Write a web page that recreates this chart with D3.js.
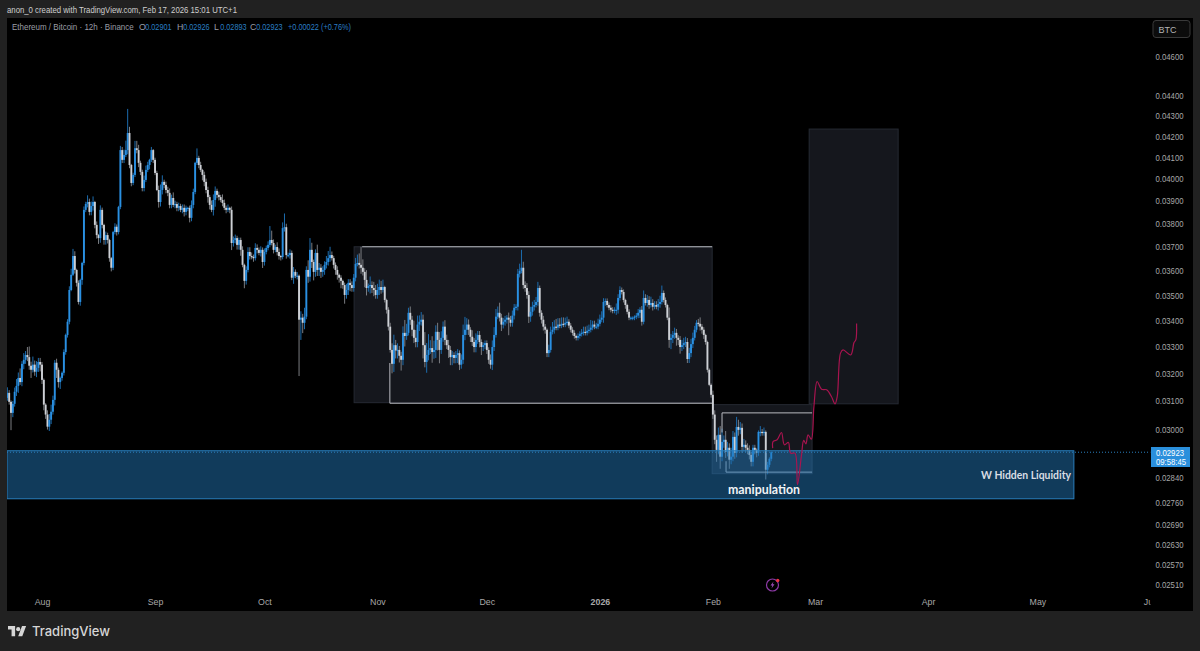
<!DOCTYPE html>
<html>
<head>
<meta charset="utf-8">
<title>ETH/BTC 12h</title>
<script src="https://cdn.jsdelivr.net/npm/d3@7/dist/d3.min.js"></script>
<style>
  html, body { margin: 0; padding: 0; background: #212121; overflow: hidden; }
  svg { display: block; font-family: "Liberation Sans", Arial, sans-serif; }
</style>
</head>
<body>
<svg id="chart" width="1200" height="651"></svg>
<script>
// Prices below are in units of 0.00001 BTC.
const firstCandle = Date.UTC(2025, 6, 22);
const closes = [
  3111,3129,3097,3058,3090,3133,3154,3183,3168,3235,
  3250,3268,3260,3228,3213,3232,3206,3220,3242,3232,
  3176,3087,3052,3010,3034,3062,3104,3239,3213,3168,
  3183,3202,3279,3344,3395,3521,3583,3661,3603,3550,
  3473,3562,3632,3860,3886,3895,3851,3877,3895,3794,
  3750,3737,3860,3794,3729,3750,3729,3652,3612,3763,
  3786,3763,3873,4134,4088,4111,4134,4216,4064,3981,
  4018,4143,4134,4074,4032,3958,3995,4041,4064,4088,
  4134,4088,4027,3949,3895,3949,3986,3972,3949,3936,
  3882,3913,3882,3886,3869,3877,3860,3869,3851,3869,
  3869,3825,3882,3940,4074,4097,4064,4041,4018,3986,
  3949,3917,3882,3860,3904,3945,3927,3917,3904,3891,
  3869,3860,3869,3860,3716,3729,3737,3708,3729,3687,
  3624,3558,3603,3678,3661,3657,3652,3695,3687,3674,
  3687,3636,3678,3695,3708,3729,3716,3687,3699,3678,
  3661,3657,3780,3784,3665,3665,3674,3571,3595,3579,
  3579,3403,3411,3391,3415,3603,3575,3687,3636,3595,
  3674,3603,3612,3595,3603,3624,3636,3652,3665,3652,
  3624,3603,3583,3571,3558,3541,3501,3521,3550,3541,
  3529,3571,3628,3632,3624,3612,3595,3562,3529,3537,
  3541,3529,3521,3501,3521,3533,3521,3533,3481,3442,
  3376,3287,3235,3305,3285,3287,3265,3250,3352,3340,
  3352,3430,3403,3364,3333,3317,3384,3395,3403,3305,
  3242,3268,3287,3294,3279,3287,3356,3325,3287,3333,
  3376,3325,3305,3287,3260,3268,3257,3268,3275,3232,
  3250,3344,3364,3384,3364,3337,3317,3298,3325,3344,
  3317,3298,3305,3313,3287,3250,3232,3298,3344,3415,
  3430,3411,3384,3395,3403,3411,3403,3391,3419,3450,
  3454,3587,3599,3612,3541,3529,3501,3415,3434,3454,
  3461,3473,3529,3430,3403,3376,3364,3275,3287,3356,
  3364,3376,3372,3384,3380,3387,3384,3391,3395,3380,
  3364,3352,3340,3333,3340,3348,3352,3356,3352,3360,
  3364,3372,3384,3376,3376,3387,3403,3411,3473,3477,
  3461,3450,3442,3438,3442,3442,3489,3521,3513,3481,
  3461,3434,3411,3411,3411,3415,3419,3430,3442,3395,
  3489,3469,3481,3461,3469,3454,3461,3454,3465,3473,
  3509,3481,3461,3411,3325,3333,3344,3352,3333,3325,
  3298,3305,3313,3317,3253,3275,3309,3333,3364,3391,
  3387,3376,3364,3344,3317,3213,3158,3122,3052,2965,
  2931,2982,2908,2958,2965,2924,2938,2898,2908,2975,
  2921,3009,2999,3006,2941,2948,2938,2931,2914,2891,
  2938,2931,2921,2992,2992,2989,2992,2865,2881,2901,
  2923
];
const upperWicks = [
  110,20,10,5,10,15,25,20,35,10,
  25,15,30,40,15,30,15,25,15,15,
  10,5,5,15,20,25,15,10,15,8,
  5,5,10,5,10,15,25,30,20,5,
  10,5,5,15,10,30,15,20,25,5,
  15,5,20,10,5,15,10,5,5,5,
  15,10,5,20,15,25,45,118,30,5,
  10,35,35,25,10,10,20,20,15,5,
  15,5,10,10,20,25,30,10,15,15,
  20,15,25,15,10,15,10,15,15,10,
  5,10,20,15,5,45,10,15,5,15,
  15,15,10,20,25,20,10,15,10,25,
  15,10,15,5,15,15,15,10,10,10,
  15,5,15,20,20,15,10,20,15,10,
  15,10,15,10,15,60,40,15,10,20,
  15,5,25,60,15,10,15,10,20,10,
  15,5,25,15,35,15,40,50,30,10,
  15,35,20,15,15,15,25,30,35,15,
  10,10,15,5,10,5,10,25,15,15,
  15,15,25,35,40,76,35,15,40,10,
  35,15,25,20,25,30,25,30,5,5,
  10,15,25,40,20,25,15,15,25,50,
  35,20,25,15,35,30,35,25,30,20,
  50,45,60,30,45,35,25,35,30,25,
  20,25,20,20,15,15,10,15,15,10,
  20,40,50,25,20,10,25,15,25,15,
  15,10,10,10,10,10,20,25,30,30,
  25,40,15,15,15,10,20,15,20,15,
  10,20,30,75,25,15,20,15,20,20,
  20,20,25,10,10,15,10,5,20,20,
  30,25,30,25,25,25,25,20,20,10,
  10,10,10,5,10,10,15,20,20,20,
  20,30,15,15,15,20,20,25,15,10,
  10,10,10,10,10,25,15,15,10,10,
  5,5,10,5,5,5,10,15,10,15,
  30,15,20,15,25,15,15,15,20,25,
  30,10,10,5,40,15,15,20,15,10,
  15,20,20,20,15,20,20,20,15,10,
  15,25,10,10,5,5,5,5,15,15,
  15,25,30,45,15,30,20,15,30,20,
  15,35,25,20,15,20,15,15,15,10,
  10,10,5,5,20,10,15,5,10,5,
  3
];
const lowerWicks = [
  45,10,10,60,15,10,15,25,10,15,
  20,15,15,15,30,10,15,20,15,25,
  15,20,15,10,15,15,10,20,30,20,
  25,10,10,10,10,10,5,5,15,15,
  10,15,20,10,10,15,15,15,20,15,
  15,25,20,15,20,20,15,15,15,10,
  10,15,10,10,15,15,10,20,15,15,
  10,10,15,20,15,15,15,10,10,20,
  10,15,10,5,25,20,20,15,15,15,
  15,15,10,15,15,15,10,15,20,15,
  15,20,15,15,10,10,15,10,25,20,
  15,25,20,10,25,30,15,15,10,15,
  10,15,10,15,30,15,15,20,20,25,
  10,30,15,10,15,10,15,10,15,10,
  15,25,15,10,10,10,10,15,10,15,
  15,15,10,15,15,10,15,10,25,10,
  15,213,78,40,25,10,25,20,25,35,
  20,25,25,25,20,20,15,15,15,10,
  15,20,20,20,30,15,35,15,20,25,
  15,15,15,10,15,25,15,30,30,15,
  30,20,25,15,15,20,15,10,10,15,
  15,10,35,30,30,30,25,40,20,40,
  15,10,20,25,20,20,20,25,15,50,
  20,40,20,15,40,25,30,40,50,15,
  15,20,15,30,30,30,20,20,30,20,
  15,15,20,20,20,20,15,20,20,15,
  20,30,15,15,15,15,15,20,15,10,
  10,15,25,15,15,15,60,15,15,15,
  10,15,15,10,15,15,15,25,20,15,
  15,10,15,15,15,15,15,15,15,10,
  10,15,10,10,10,10,10,10,10,10,
  10,10,10,10,10,10,10,10,10,10,
  10,10,10,10,10,10,10,10,20,15,
  10,10,10,10,10,20,15,10,10,10,
  15,10,10,10,10,10,10,10,20,15,
  10,10,15,15,10,15,10,10,15,15,
  10,10,10,10,30,35,20,15,30,20,
  25,15,15,15,15,15,15,15,10,10,
  10,15,15,15,10,10,5,10,15,15,
  40,15,40,15,20,20,15,30,15,15,
  20,15,20,15,20,15,15,15,15,15,
  15,15,15,10,15,10,10,32,15,8,
  8
];

// Projected path: days after 1 Feb 2026 and the price reached on that day.
const projectionDays = [16.4,16.5,17.6,18.8,19.6,20.7,21.3,22.5,23.2,24.3,24.9,25.5,26.1,27,27.7,28.6,29.8,31.2,32.5,33.5,34.1,35,35.7,37.8,38.7,39.2,39.4];
const projectionPrices = [2937,2959,2965,2990,2948,2956,2920,2920,2816,2914,2963,2951,2982,2967,3080,3170,3142,3140,3116,3090,3116,3275,3287,3268,3315,3325,3388];

// Shaded ranges: [first day after 1 Aug 2025, last day, top price, bottom price].
const rangeBoxes = [
  [85.6, 183.8, 3700, 3094],
  [210.4, 234.8, 4235, 3090],
  [183.8, 211.2, 3087, 2852]
];
const liquidityZone = [-9.6, 283, 2928, 2771];
// Outline strokes: each one a list of [day, price] corners.
const outlineStrokes = [
  [[87.8, 3700], [183.8, 3700]],
  [[95.4, 3238], [95.4, 3092], [183.8, 3092]],
  [[186.5, 2990], [186.5, 3058], [211.2, 3058]],
  [[187.6, 2893], [187.6, 2857], [211.2, 2857]]
];

const priceTicks = [4600,4400,4300,4200,4100,4000,3900,3800,3700,3600,3500,3400,3300,3200,3100,3000,2840,2760,2690,2630,2570,2510];
const monthLabels = ["Aug","Sep","Oct","Nov","Dec","2026","Feb","Mar","Apr","May","Jun"];
const monthDates = [[2025,7],[2025,8],[2025,9],[2025,10],[2025,11],[2026,0],[2026,1],[2026,2],[2026,3],[2026,4],[2026,5]];
const lastPrice = 2923;
const countdown = "09:58:45";
const ohlcLabels = [["O","0.02901",139],["H","0.02926",177],["L","0.02893",214],["C","0.02923",250]];
const changeLabel = "+0.00022 (+0.76%)";

const UP = "#2a90e2", DOWN = "#cdd0d5", UP_WICK = "#1c6cae", DOWN_WICK = "#7a7c80";
const DAY = 864e5, HALF_DAY = 432e5;
const aug1 = Date.UTC(2025, 7, 1), feb1 = Date.UTC(2026, 1, 1);

const x = d3.scaleUtc().domain([new Date(aug1), new Date(Date.UTC(2026, 2, 1))]).range([42, 815]);
const y = d3.scaleLog().domain([0.046, 0.0251]).range([57, 585]);
const fromUnits = v => v * 1e-5;
const xDay = d => x(new Date(aug1 + d * DAY));
const pane = { left: 7, right: 1150.5, top: 18, bottom: 611 };

// Squeezes a label horizontally so it keeps its height in a narrower run.
const fit = (sel, width) => sel.attr("textLength", width).attr("lengthAdjust", "spacingAndGlyphs");

const candles = closes.map((c, i) => {
  const open = i ? closes[i - 1] : c;
  return {
    time: new Date(firstCandle + i * HALF_DAY),
    open, close: c,
    high: Math.max(open, c) + upperWicks[i],
    low: Math.min(open, c) - lowerWicks[i],
    up: c >= open
  };
});

const svg = d3.select("#chart");
svg.append("rect").attr("x", 7).attr("y", 18).attr("width", 1186).attr("height", 593).attr("fill", "#000");
svg.append("clipPath").attr("id", "pane").append("rect")
  .attr("x", pane.left).attr("y", pane.top)
  .attr("width", pane.right - pane.left).attr("height", pane.bottom - pane.top);

svg.append("text").attr("x", 7).attr("y", 13).attr("fill", "#cfcfcf").attr("font-size", 9)
  .text("anon_0 created with TradingView.com, Feb 17, 2026 15:01 UTC+1").call(fit, 230);

const plot = svg.append("g").attr("clip-path", "url(#pane)");

// Shaded ranges sit under the candles.
plot.selectAll("rect.range").data(rangeBoxes).join("rect").attr("class", "range")
  .attr("x", d => xDay(d[0])).attr("width", d => xDay(d[1]) - xDay(d[0]))
  .attr("y", d => y(fromUnits(d[2]))).attr("height", d => y(fromUnits(d[3])) - y(fromUnits(d[2])))
  .attr("fill", "#15171d").attr("stroke", "#262a33").attr("stroke-width", 1);

// Candles.
plot.append("g").selectAll("line").data(candles).join("line")
  .attr("x1", d => x(d.time)).attr("x2", d => x(d.time))
  .attr("y1", d => y(fromUnits(d.high))).attr("y2", d => y(fromUnits(d.low)))
  .attr("stroke", d => d.up ? UP_WICK : DOWN_WICK).attr("stroke-width", 1);
plot.append("g").selectAll("rect").data(candles).join("rect")
  .attr("x", d => x(d.time) - 0.95).attr("width", 1.9)
  .attr("y", d => y(fromUnits(Math.max(d.open, d.close))))
  .attr("height", d => Math.max(1.2, y(fromUnits(Math.min(d.open, d.close))) - y(fromUnits(Math.max(d.open, d.close)))))
  .attr("fill", d => d.up ? UP : DOWN);

// Outline strokes around the ranges.
const outline = d3.line().x(d => xDay(d[0])).y(d => y(fromUnits(d[1])));
plot.selectAll("path.outline").data(outlineStrokes).join("path").attr("class", "outline")
  .attr("d", outline).attr("fill", "none").attr("stroke", "#b9bbc0").attr("stroke-width", 1);

// Liquidity zone lies over the candles with a translucent fill.
plot.append("rect")
  .attr("x", xDay(liquidityZone[0])).attr("width", xDay(liquidityZone[1]) - xDay(liquidityZone[0]))
  .attr("y", y(fromUnits(liquidityZone[2]))).attr("height", y(fromUnits(liquidityZone[3])) - y(fromUnits(liquidityZone[2])))
  .attr("fill", "rgba(33,118,182,0.5)").attr("stroke", "#2a7fbd").attr("stroke-width", 1);

// Last price line.
plot.append("line").attr("x1", pane.left).attr("x2", pane.right)
  .attr("y1", y(fromUnits(lastPrice))).attr("y2", y(fromUnits(lastPrice)))
  .attr("stroke", "#2a7fbd").attr("stroke-width", 1).attr("stroke-dasharray", "1 2");

// Projected path.
const projection = d3.line().curve(d3.curveCatmullRom.alpha(0.5))
  .x((d, i) => x(new Date(feb1 + projectionDays[i] * DAY)))
  .y(d => y(fromUnits(d)));
plot.append("path").attr("d", projection(projectionPrices))
  .attr("fill", "none").attr("stroke", "#a8144f").attr("stroke-width", 1.2);

// Annotations.
plot.append("text").attr("x", 981).attr("y", 479)
  .attr("fill", "#d9dde4").attr("font-size", 11).attr("font-weight", 700).attr("font-family", "Lato, sans-serif")
  .text("W Hidden Liquidity").call(fit, 90);
plot.append("text").attr("x", 728).attr("y", 494)
  .attr("fill", "#f0f2f5").attr("font-size", 12.5).attr("font-weight", 700).attr("font-family", "Lato, sans-serif")
  .text("manipulation").call(fit, 72);

// Axes.
const yAxis = d3.axisRight(y).tickValues(priceTicks.map(fromUnits)).tickSize(0).tickPadding(6)
  .tickFormat(d3.format(".5f"));
const yG = svg.append("g").attr("transform", `translate(${pane.right - 1},0)`).call(yAxis);
yG.select(".domain").remove();
yG.selectAll("text").attr("fill", "#a8a8a8").attr("font-size", 8.8).attr("font-family", "inherit").call(fit, 28);

const xAxis = d3.axisBottom(x).tickValues(monthDates.map(m => new Date(Date.UTC(m[0], m[1], 1))))
  .tickSize(0).tickPadding(0).tickFormat((d, i) => monthLabels[i]);
const xG = plot.append("g").attr("transform", "translate(0,599)").call(xAxis);
xG.select(".domain").remove();
xG.selectAll("text").attr("fill", "#a8a8a8").attr("font-size", 8.8).attr("font-family", "inherit")
  .attr("font-weight", (d, i) => monthLabels[i] === "2026" ? 700 : 400);

// Legend line: each OHLC key and its value are separate labels.
const legend = svg.append("g");
legend.append("text").attr("transform", "translate(12,30.3) scale(0.89,1)").attr("font-size", 9).attr("fill", "#9a9da5")
  .text("Ethereum / Bitcoin · 12h · Binance");
ohlcLabels.forEach(([k, v, px]) => {
  legend.append("text").attr("x", px).attr("y", 30.3).attr("font-size", 8.8).attr("fill", "#9a9da5").text(k);
  legend.append("text").attr("x", px + 6.2).attr("y", 30.3).attr("font-size", 8.8).attr("fill", "#2a7fc4")
    .text(v).call(fit, 26.4);
});
legend.append("text").attr("x", 288).attr("y", 30.3).attr("font-size", 8.8).attr("fill", "#2a7fc4")
  .text(changeLabel).call(fit, 63);

// Currency button.
svg.append("rect").attr("x", 1153).attr("y", 20.5).attr("width", 37).attr("height", 17).attr("rx", 3)
  .attr("fill", "#0c0c0c").attr("stroke", "#3a3a3a");
svg.append("text").attr("x", 1158.5).attr("y", 32.5).attr("fill", "#b5b5b5").attr("font-size", 9).text("BTC");

// Last price tag.
svg.append("rect").attr("x", 1151).attr("y", 447).attr("width", 39).attr("height", 20).attr("fill", "#2a8fdc");
svg.append("text").attr("x", 1156).attr("y", 455.8).attr("fill", "#fff").attr("font-size", 8.2)
  .text(d3.format(".5f")(fromUnits(lastPrice))).call(fit, 28);
svg.append("text").attr("x", 1156).attr("y", 465).attr("fill", "#fff").attr("font-size", 8.2)
  .text(countdown).call(fit, 30);

// Lightning badge.
const badge = svg.append("g").attr("transform", "translate(772.5,585)");
badge.append("circle").attr("r", 6).attr("fill", "none").attr("stroke", "#8e3aa6").attr("stroke-width", 1.2);
badge.append("path").attr("d", "M1,-3.6 L-2,0.6 L-0.2,0.6 L-1,3.6 L2,-0.8 L0.2,-0.8 Z").attr("fill", "#9c4ab5");
badge.append("circle").attr("cx", 5.2).attr("cy", -4.5).attr("r", 1.7).attr("fill", "#ee3344");

// Wordmark.
const mark = svg.append("g").attr("transform", "translate(8,626)");
mark.append("path").attr("transform", "scale(0.51)")
  .attr("d", "M14 20H7V7H0V0h14v20zM28 20h-8L27.5 0h8L28 20z").attr("fill", "#d6d6d6");
mark.append("circle").attr("cx", 10.2).attr("cy", 3.2).attr("r", 2.1).attr("fill", "#d6d6d6");
svg.append("text").attr("x", 32).attr("y", 636.3).attr("fill", "#d6d6d6")
  .attr("font-size", 13).attr("font-weight", 500).attr("font-family", "Inter, sans-serif").text("TradingView");
</script>
</body>
</html>
